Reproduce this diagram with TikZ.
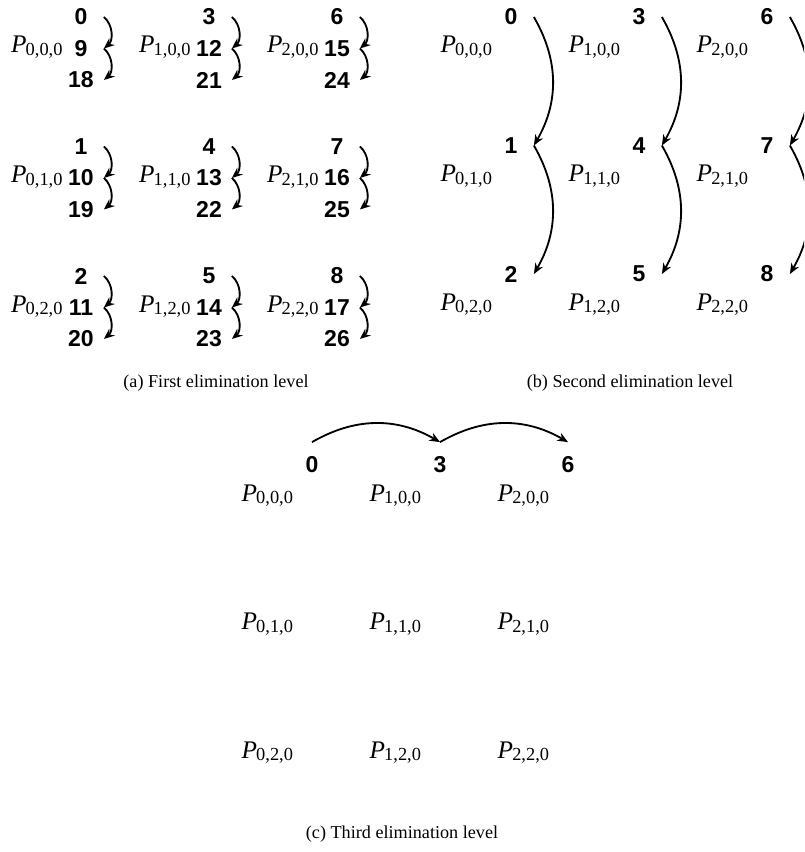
\documentclass[tikz,border=0pt]{standalone}
\usepackage{fontspec}
\setmainfont{Liberation Serif}
\newfontfamily\numfont{Liberation Sans}
\usetikzlibrary{arrows.meta}
\newcommand{\plab}[1]{{\fontsize{11}{13}\selectfont\textit{P}}\kern-0.4pt\raisebox{-1.1pt}{\fontsize{8}{9}\selectfont #1}}
\begin{document}
\begin{tikzpicture}[x=0.43478pt,y=-0.43478pt,
  num/.style={font=\numfont\bfseries, minimum width=19.5pt, minimum height=19.5pt, inner sep=0pt},
  plabel/.style={anchor=base east, inner sep=0pt},
  arr/.style={-{Stealth[length=4.6pt,width=3.8pt]}, thick, bend left=30},
  arrs/.style={arr, bend left=50},
  captext/.style={anchor=base, inner sep=0pt, font=\fontsize{7.9}{9.5}\selectfont}]
\useasboundingbox (0,0) rectangle (804,852);
\clip (0,0) rectangle (804,852);
% (a) first elimination level
\foreach \c in {0,1,2} {
  \foreach \r in {0,1,2} {
    \pgfmathtruncatemacro\ta{3*\c+\r}
    \pgfmathtruncatemacro\tb{\ta+9}
    \pgfmathtruncatemacro\tc{\ta+18}
    \node[num] (a\ta) at (81+128*\c, 17+129.5*\r) {\ta};
    \node[num] (a\tb) at (81+128*\c, 48.5+129.5*\r) {\tb};
    \node[num] (a\tc) at (81+128*\c, 80+129.5*\r) {\tc};
    \node[plabel] (pa\c\r) at (63+128*\c, 53+129.5*\r) {\plab{\c,\r,0}};
    \draw[arrs] (a\ta.east) to (a\tb.east);
    \draw[arrs] (a\tb.east) to (a\tc.east);
  }
}
% (b) second elimination level
\foreach \c in {0,1,2} {
  \foreach \r in {0,1,2} {
    \pgfmathtruncatemacro\ta{3*\c+\r}
    \node[num] (b\ta) at (511+128*\c, 17+128.5*\r) {\ta};
    \node[plabel] (pb\c\r) at (492.5+128*\c, 53+128.5*\r) {\plab{\c,\r,0}};
  }
  \pgfmathtruncatemacro\ba{3*\c}
  \pgfmathtruncatemacro\bb{3*\c+1}
  \pgfmathtruncatemacro\bc{3*\c+2}
  \draw[arr] (b\ba.east) to (b\bb.east);
  \draw[arr] (b\bb.east) to (b\bc.east);
}
% (c) third elimination level
\foreach \c in {0,1,2} {
  \pgfmathtruncatemacro\ta{3*\c}
  \node[num] (c\ta) at (312+128*\c, 465) {\ta};
  \foreach \r in {0,1,2} {
    \node[plabel] (pc\c\r) at (293.5+128*\c, 501+128.5*\r) {\plab{\c,\r,0}};
  }
}
\draw[arr] (c0.north) to (c3.north);
\draw[arr] (c3.north) to (c6.north);
% captions
\node[captext] (capa) at (216,387) {(a) First elimination level};
\node[captext] (capb) at (630,387) {(b) Second elimination level};
\node[captext] (capc) at (402,838) {(c) Third elimination level};
\end{tikzpicture}
\end{document}
